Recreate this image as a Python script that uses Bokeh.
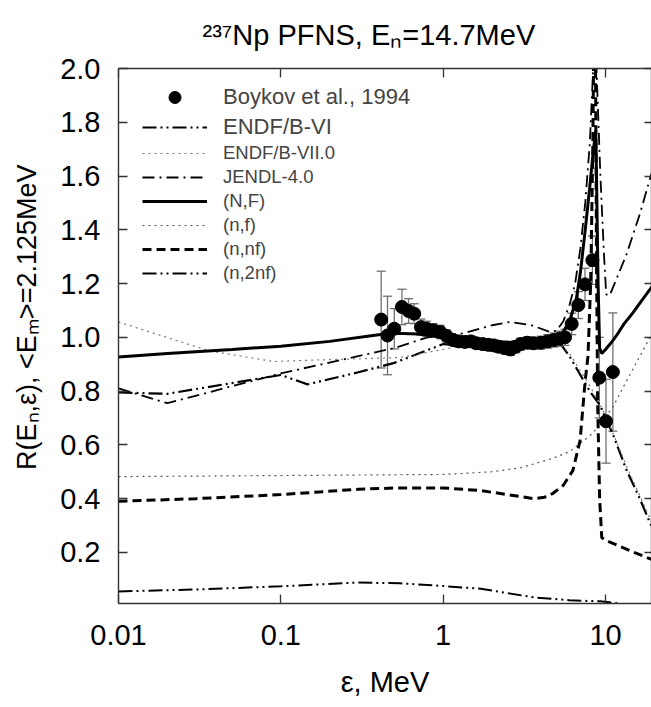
from bokeh.plotting import figure
from bokeh.models import (Range1d, FixedTicker, PrintfTickFormatter, LogAxis, LinearAxis,
                          Whisker, ColumnDataSource, TeeHead, Legend, LegendItem)
from bokeh.embed import file_html
from bokeh.resources import INLINE

# ---------------- data ----------------
# Boykov et al., 1994 (energy MeV, ratio, error)
exp_x = [0.415, 0.454, 0.50, 0.557, 0.612, 0.663, 0.73, 0.79, 0.87, 0.96, 1.05, 1.15, 1.25, 1.36,
         1.48, 1.6, 1.75, 1.9, 2.05, 2.2, 2.4, 2.6, 2.8, 3.0, 3.3, 3.6, 4.0, 4.4, 4.8, 5.2, 5.63,
         6.19, 6.8, 7.48, 8.3, 9.16, 10.07, 11.1]
exp_y = [1.066, 1.007, 1.032, 1.113, 1.098, 1.088, 1.038, 1.032, 1.026, 1.02, 1.005, 0.99, 0.985,
         0.983, 0.985, 0.978, 0.975, 0.972, 0.97, 0.965, 0.96, 0.955, 0.965, 0.975, 0.98, 0.978,
         0.98, 0.985, 0.99, 0.995, 1.0, 1.05, 1.12, 1.197, 1.287, 0.85, 0.688, 0.871]
exp_err = [0.18, 0.146, 0.075, 0.066, 0.046, 0.037, 0.03, 0.028, 0.025, 0.025, 0.022, 0.02, 0.02,
           0.02, 0.02, 0.02, 0.02, 0.02, 0.02, 0.02, 0.022, 0.022, 0.022, 0.022, 0.022, 0.022,
           0.024, 0.025, 0.026, 0.028, 0.03, 0.04, 0.05, 0.06, 0.09, 0.15, 0.156, 0.22]

# ENDF/B-VI
b6_x = [0.01, 0.02, 0.1, 0.146, 0.3, 0.5, 1.0, 1.5, 2.5, 4.0, 5.25, 6.0, 7.0, 8.0, 9.3, 10.0, 11.1,
        13.5, 16.0, 18.8, 20.0]
b6_y = [0.795, 0.79, 0.86, 0.825, 0.87, 0.905, 0.975, 0.97, 0.96, 0.97, 0.978, 0.93, 0.86, 0.80,
        0.745, 0.70, 0.64, 0.505, 0.41, 0.31, 0.28]

# ENDF/B-VII.0
b7_x = [0.01, 0.036, 0.09, 0.15, 0.3, 0.54, 1.0, 1.5, 2.5, 4.0, 5.25, 6.0, 8.0, 10.0, 13.5, 20.0]
b7_y = [1.057, 0.95, 0.91, 0.915, 0.92, 0.925, 0.955, 0.975, 0.975, 0.975, 0.975, 0.94, 0.82,
        0.71, 0.52, 0.29]

# JENDL-4.0
jd_x = [0.01, 0.02, 0.1, 0.3, 0.5, 0.8, 1.33, 2.0, 2.58, 3.5, 4.55, 5.0, 5.5, 6.0, 6.5, 7.0, 7.5,
        8.0, 8.4, 8.6, 8.8, 9.3, 9.8, 10.1, 10.6, 13.5, 16.3, 19.0, 20.0]
jd_y = [0.81, 0.755, 0.866, 0.93, 0.96, 1.0, 1.015, 1.045, 1.057, 1.045, 1.02, 1.025, 1.06, 1.12,
        1.2, 1.33, 1.5, 1.72, 2.0, 2.15, 2.0, 1.6, 1.3, 1.16, 1.155, 1.31, 1.46, 1.6, 1.64]

# (N,F)
nf_tot_x = [0.01, 0.02, 0.05, 0.1, 0.2, 0.4, 0.5, 0.7, 1.0, 2.0, 3.0, 4.0, 5.0, 5.25, 6.0, 6.6,
            7.0, 7.5, 8.0, 8.4, 8.7, 8.75, 9.0, 9.2, 9.48, 10.0, 11.0, 11.7, 13.0, 14.7, 17.1, 20.0]
nf_tot_y = [0.927, 0.94, 0.955, 0.967, 0.985, 1.01, 1.015, 1.012, 1.0, 0.985, 0.98, 0.985, 0.995,
            1.0, 1.06, 1.14, 1.24, 1.40, 1.56, 1.69, 1.77, 1.70, 1.20, 0.96, 0.94, 0.955, 0.985,
            1.007, 1.05, 1.09, 1.145, 1.20]

# (n,f)
nf1_x = [0.01, 0.1, 1.0, 2.0, 3.0, 4.75, 6.0, 7.5, 8.4, 9.5, 11.1, 13.0, 15.0, 18.8, 20.0]
nf1_y = [0.482, 0.486, 0.49, 0.50, 0.515, 0.55, 0.575, 0.62, 0.645, 0.69, 0.74, 0.82, 0.89, 1.0,
         1.03]

# (n,nf)
nnf_x = [0.01, 0.03, 0.1, 0.3, 0.54, 1.0, 1.7, 2.5, 3.6, 4.2, 4.75, 5.5, 6.3, 6.97, 7.5, 7.8,
         8.1, 8.35, 8.5, 8.65, 8.8, 8.95, 9.2, 9.48, 10.0, 12.0, 15.0, 20.0]
nnf_y = [0.39, 0.40, 0.415, 0.435, 0.44, 0.44, 0.43, 0.415, 0.40, 0.405, 0.42, 0.45, 0.505,
         0.616, 0.84, 0.93, 1.2, 1.7, 2.2, 2.2, 1.3, 0.75, 0.40, 0.255, 0.245, 0.225, 0.20, 0.17]

# (n,2nf)
n2nf_x = [0.01, 0.03, 0.1, 0.3, 0.54, 1.0, 1.7, 3.6, 6.0, 9.3, 12.3]
n2nf_y = [0.055, 0.062, 0.074, 0.088, 0.085, 0.075, 0.065, 0.033, 0.022, 0.018, 0.01]

x_ticks = [0.01, 0.1, 1, 10]
y_ticks = [0.2, 0.4, 0.6, 0.8, 1.0, 1.2, 1.4, 1.6, 1.8, 2.0]

title_text = "\u00b2\u00b3\u2077Np PFNS, E\u2099=14.7MeV"
xlabel_text = "\u03b5, MeV"
ylabel_text = "\u00a0" * 5 + "R(E\u2099,\u03b5), <E\u2098>=2.125MeV"

FONT = "Liberation Sans"
AX = "#333333"

# ---------------- figure ----------------
p = figure(width=651, height=707, x_axis_type="log",
           x_range=Range1d(0.01, 19.2), y_range=Range1d(0.01, 2.0),
           output_backend="svg", toolbar_location=None,
           min_border_left=118, min_border_top=68, min_border_bottom=104, min_border_right=0)
p.outline_line_color = None
p.xgrid.visible = False
p.ygrid.visible = False
p.border_fill_color = "white"

p.title.text = title_text
p.title.text_font = FONT
p.title.text_font_size = "29px"
p.title.text_font_style = "normal"
p.title.text_color = "black"
p.title.align = "left"
p.title.offset = 84
p.title.vertical_align = "top"
p.title.standoff = 32

def style_axis(ax, labels=True, size="29px"):
    ax.axis_line_color = AX
    ax.axis_line_width = 1.4
    ax.major_tick_line_color = AX
    ax.major_tick_line_width = 1.3
    ax.major_tick_in = 9
    ax.major_tick_out = 0
    ax.minor_tick_line_color = None
    ax.major_label_text_font = FONT
    ax.major_label_text_color = "black"
    ax.major_label_text_font_size = size if labels else "1px"

xa = p.xaxis[0]
xa.ticker = FixedTicker(ticks=x_ticks, minor_ticks=[])
xa.formatter = PrintfTickFormatter(format="%g")
style_axis(xa)
xa.major_label_standoff = 21
xa.axis_label = xlabel_text
xa.axis_label_text_font = FONT
xa.axis_label_text_font_size = "29px"
xa.axis_label_text_font_style = "normal"
xa.axis_label_text_color = "black"
xa.axis_label_standoff = 18

ya = p.yaxis[0]
ya.ticker = FixedTicker(ticks=y_ticks, minor_ticks=[])
ya.formatter = PrintfTickFormatter(format="%.1f")
style_axis(ya)
ya.major_label_standoff = 18
ya.axis_label = ylabel_text
ya.axis_label_text_font = FONT
ya.axis_label_text_font_size = "27px"
ya.axis_label_text_font_style = "normal"
ya.axis_label_text_color = "black"
ya.axis_label_standoff = 15

top = LogAxis(ticker=FixedTicker(ticks=x_ticks, minor_ticks=[]),
              formatter=PrintfTickFormatter(format=""))
style_axis(top, labels=False)
top.major_label_standoff = 0
p.add_layout(top, "above")

right = LinearAxis(ticker=FixedTicker(ticks=y_ticks, minor_ticks=[]),
                   formatter=PrintfTickFormatter(format=""))
style_axis(right, labels=False)
right.major_tick_in = 7
right.major_label_standoff = 0
p.add_layout(right, "right")

# ---------------- curves ----------------
r_b6 = p.line(b6_x, b6_y, line_color="black", line_width=2.2, line_dash="14 4 2 4 2 4")
r_b7 = p.line(b7_x, b7_y, line_color="#777777", line_width=1.2, line_dash="2 4")
r_jd = p.line(jd_x, jd_y, line_color="black", line_width=1.8, line_dash="12 5 2 5")
r_nf = p.line(nf_tot_x, nf_tot_y, line_color="black", line_width=3)
r_nf1 = p.line(nf1_x, nf1_y, line_color="#555555", line_width=1.2, line_dash="2 4")
r_nnf = p.line(nnf_x, nnf_y, line_color="black", line_width=3, line_dash="9 5")
r_n2nf = p.line(n2nf_x, n2nf_y, line_color="black", line_width=2, line_dash="14 4 2 4 2 4")

# ---------------- experiment ----------------
src = ColumnDataSource(dict(x=exp_x, y=exp_y,
                            lo=[a - b for a, b in zip(exp_y, exp_err)],
                            hi=[a + b for a, b in zip(exp_y, exp_err)]))
wh = Whisker(source=src, base="x", lower="lo", upper="hi", dimension="height",
             line_color="#707070", line_width=1.3,
             upper_head=TeeHead(size=9, line_color="#707070", line_width=1.3),
             lower_head=TeeHead(size=9, line_color="#707070", line_width=1.3))
p.add_layout(wh)
r_exp = p.scatter("x", "y", source=src, size=13, color="black")

# ---------------- legends ----------------
leg1 = Legend(items=[LegendItem(label="Boykov et al., 1994", renderers=[r_exp]),
                     LegendItem(label="ENDF/B-VI", renderers=[r_b6])],
              location=(24, 461), label_text_font=FONT, label_text_font_size="22px",
              glyph_width=65, glyph_height=30, label_height=30, spacing=0, padding=0,
              margin=0, label_standoff=16, border_line_color=None,
              background_fill_alpha=0)
leg2 = Legend(items=[LegendItem(label="ENDF/B-VII.0", renderers=[r_b7]),
                     LegendItem(label="JENDL-4.0", renderers=[r_jd]),
                     LegendItem(label="(N,F)", renderers=[r_nf]),
                     LegendItem(label="(n,f)", renderers=[r_nf1]),
                     LegendItem(label="(n,nf)", renderers=[r_nnf]),
                     LegendItem(label="(n,2nf)", renderers=[r_n2nf])],
              location=(24, 318), label_text_font=FONT, label_text_font_size="18.5px",
              glyph_width=65, glyph_height=24, label_height=24, spacing=0, padding=0,
              margin=0, label_standoff=16, border_line_color=None,
              background_fill_alpha=0)
p.add_layout(leg1)
p.add_layout(leg2)

open("out.html", "w").write(file_html(p, INLINE))
